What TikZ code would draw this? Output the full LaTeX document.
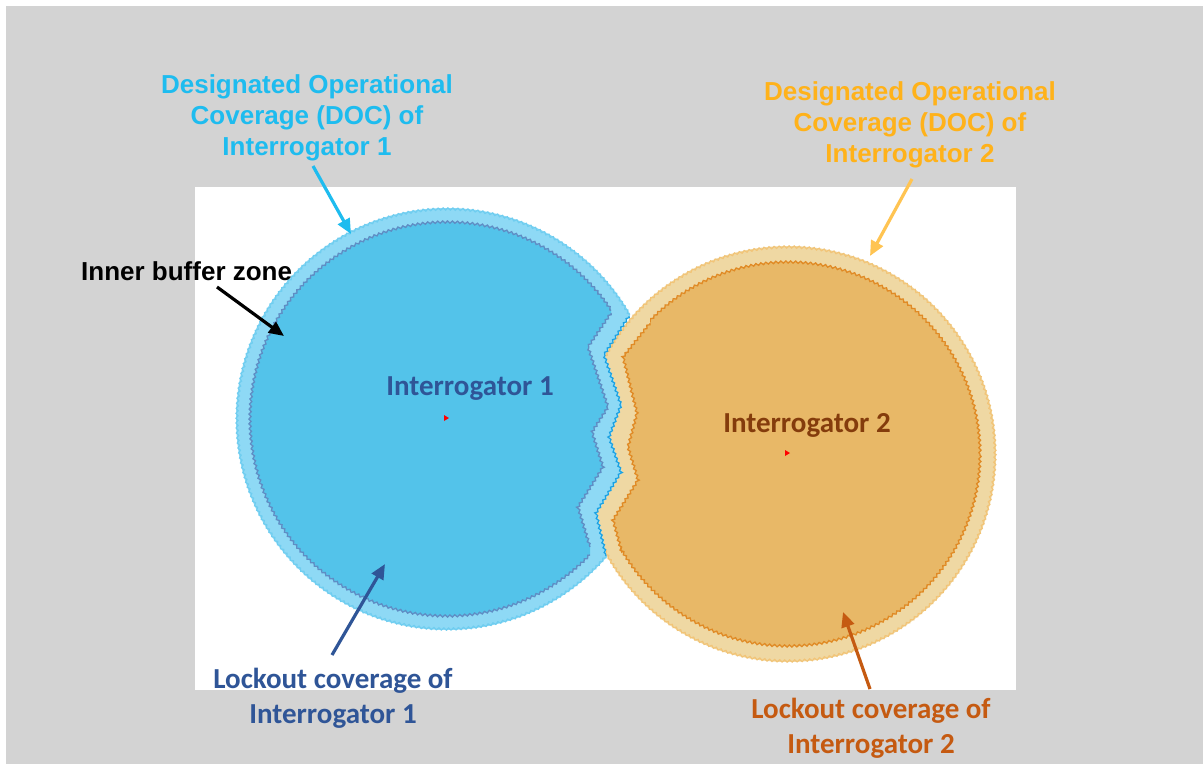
\documentclass[tikz,border=0pt]{standalone}
\usepackage{fontspec}
\newfontfamily\arialfont{Liberation Sans}
\newfontfamily\califont{Carlito}
\usetikzlibrary{arrows.meta,decorations.pathmorphing}
\definecolor{bggray}{HTML}{D3D3D3}
\definecolor{docbluefill}{HTML}{8ED9F5}
\definecolor{docblueedge}{HTML}{6FCDF0}
\definecolor{lockbluefill}{HTML}{53C3EA}
\definecolor{lockblueedge}{HTML}{5F8DC4}
\definecolor{zblue}{HTML}{1BA1E2}
\definecolor{docorfill}{HTML}{EFD8A3}
\definecolor{docoredge}{HTML}{F2C477}
\definecolor{lockorfill}{HTML}{E8B867}
\definecolor{lockoredge}{HTML}{E08A25}
\definecolor{doctextblue}{HTML}{1EBCEF}
\definecolor{doctextor}{HTML}{FFB21A}
\definecolor{docarror}{HTML}{FFC452}
\definecolor{darkblue}{HTML}{2F5597}
\definecolor{darkbrown}{HTML}{843C0C}
\definecolor{rustor}{HTML}{C55A11}
\tikzset{
  jag/.style={decorate, decoration={zigzag, segment length=5pt, amplitude=1.1pt}},
  doclab/.style={font=\arialfont\bfseries\fontsize{26}{30}\selectfont, inner sep=0pt, anchor=base},
  callab/.style={font=\califont\bfseries\fontsize{29}{34}\selectfont, inner sep=0pt, anchor=base},
  arr/.style={line width=3.2pt, -{Triangle[length=15pt,width=13pt]}},
}
\begin{document}
\begin{tikzpicture}[x=1pt,y=-1pt]
\useasboundingbox (0,0) rectangle (1203,764);
% background
\fill[white] (0,0) rectangle (1203,764);
\fill[bggray] (6,6) rectangle (1203,764);
\fill[white] (195,187) rectangle (1016,690);

% DOC of interrogator 1
\begin{scope}
  \clip (0,0) -- (630,0) -- (630,315) -- (605,355) -- (622,405) -- (610,437) -- (622,472) -- (597,513) -- (607,557) -- (607,764) -- (0,764) -- cycle;
  \fill[docbluefill] (447,419) circle[radius=211pt];
  \draw[docblueedge, line width=1.2pt, jag] (447,419) circle[radius=210pt];
\end{scope}
% lockout of interrogator 1
\begin{scope}
  \clip (0,0) -- (611,0) -- (611,313) -- (588,347) -- (608,407) -- (592,432) -- (603,467) -- (578,507) -- (590,547) -- (590,764) -- (0,764) -- cycle;
  \fill[lockbluefill] (447,419) circle[radius=197pt];
  \draw[lockblueedge, line width=1.3pt, jag] (447,419) circle[radius=197pt];
\end{scope}
\draw[lockblueedge, line width=1.3pt, jag] (611,313) -- (588,347) -- (608,407) -- (592,432) -- (603,467) -- (578,507) -- (590,547);

% DOC of interrogator 2
\begin{scope}
  \clip (1203,0) -- (630,0) -- (630,315) -- (605,355) -- (622,405) -- (610,437) -- (622,472) -- (597,513) -- (607,557) -- (607,764) -- (1203,764) -- cycle;
  \fill[docorfill] (788,454) circle[radius=208pt];
  \draw[docoredge, line width=1.2pt, jag] (788,454) circle[radius=207pt];
\end{scope}
% lockout of interrogator 2
\begin{scope}
  \clip (1203,0) -- (650,0) -- (650,323) -- (623,357) -- (637,413) -- (628,447) -- (638,480) -- (613,520) -- (622,553) -- (622,764) -- (1203,764) -- cycle;
  \fill[lockorfill] (788,454) circle[radius=192pt];
  \draw[lockoredge, line width=1.3pt, jag] (788,454) circle[radius=192pt];
\end{scope}
\draw[lockoredge, line width=1.3pt, jag] (650,323) -- (623,357) -- (637,413) -- (628,447) -- (638,480) -- (613,520) -- (622,553);

% boundary between the two DOCs
\draw[zblue, line width=1.2pt, jag] (629,316) -- (604,355) -- (621,405) -- (609,437) -- (621,472) -- (596,513) -- (606,556);

% interrogator markers
\fill[red] (444,415) -- (449,418) -- (444,421) -- cycle;
\fill[red] (785,450) -- (790,453) -- (785,456) -- cycle;

% labels
\node[doclab, text=doctextblue] (doc1a) at (307,93) {Designated Operational};
\node[doclab, text=doctextblue] (doc1b) at (307,124) {Coverage (DOC) of};
\node[doclab, text=doctextblue] (doc1c) at (307,155) {Interrogator 1};

\node[doclab, text=doctextor] (doc2a) at (910,100) {Designated Operational};
\node[doclab, text=doctextor] (doc2b) at (910,131) {Coverage (DOC) of};
\node[doclab, text=doctextor] (doc2c) at (910,162) {Interrogator 2};

\node[doclab, text=black, anchor=base west] (buf) at (81,280) {Inner buffer zone};

\node[callab, text=darkblue] (int1) at (470,395) {Interrogator 1};
\node[callab, text=darkbrown] (int2) at (807,432) {Interrogator 2};

\node[callab, text=darkblue] (lock1a) at (333,688) {Lockout coverage of};
\node[callab, text=darkblue] (lock1b) at (333,723) {Interrogator 1};

\node[callab, text=rustor] (lock2a) at (871,718) {Lockout coverage of};
\node[callab, text=rustor] (lock2b) at (871,753) {Interrogator 2};

% arrows
\coordinate (t1) at (313,166); \coordinate (h1) at (351,234);
\coordinate (t2) at (912,179); \coordinate (h2) at (870,256);
\coordinate (t3) at (217,287); \coordinate (h3) at (284,336);
\coordinate (t4) at (332,655); \coordinate (h4) at (385,564);
\coordinate (t5) at (870,689); \coordinate (h5) at (843,612);
\draw[arr, doctextblue] (t1) -- (h1);
\draw[arr, docarror] (t2) -- (h2);
\draw[arr, black] (t3) -- (h3);
\draw[arr, darkblue] (t4) -- (h4);
\draw[arr, rustor] (t5) -- (h5);
\end{tikzpicture}
\end{document}
